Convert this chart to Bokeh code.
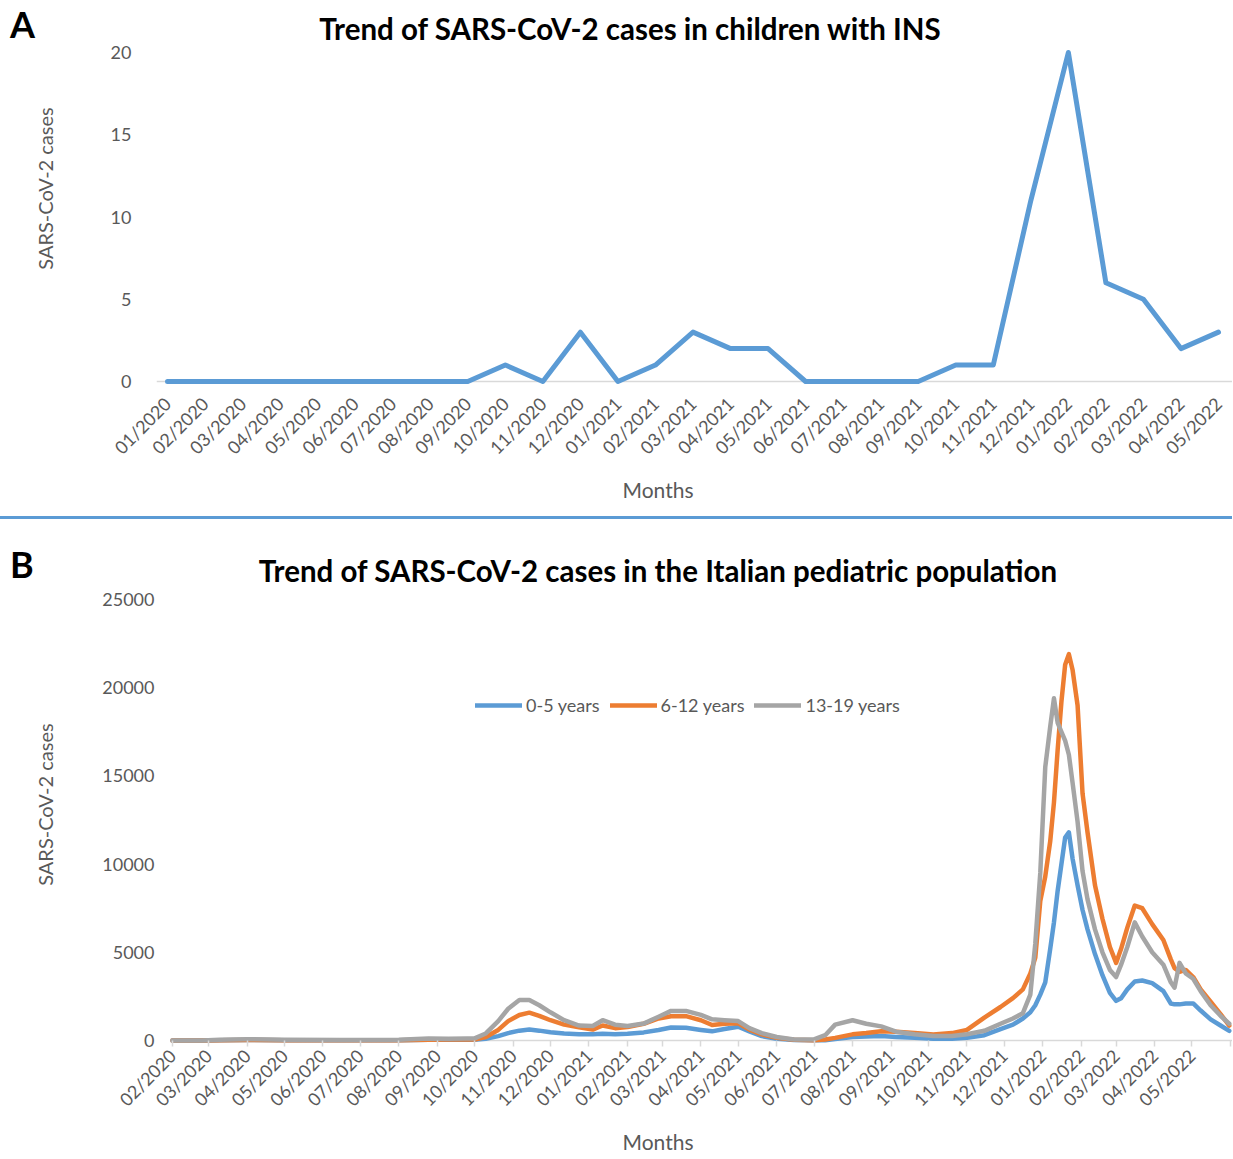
import math
import pandas as pd
from bokeh.plotting import figure
from bokeh.models import (Range1d, FixedTicker, Span, Legend, LegendItem, Label,
                          Div, ColumnDataSource, Title)
from bokeh.layouts import column, row
from bokeh.embed import file_html
from bokeh.resources import INLINE

# ---------------- Panel A data ----------------
a_months = ["01/2020", "02/2020", "03/2020", "04/2020", "05/2020", "06/2020",
            "07/2020", "08/2020", "09/2020", "10/2020", "11/2020", "12/2020",
            "01/2021", "02/2021", "03/2021", "04/2021", "05/2021", "06/2021",
            "07/2021", "08/2021", "09/2021", "10/2021", "11/2021", "12/2021",
            "01/2022", "02/2022", "03/2022", "04/2022", "05/2022"]
a_cases = [0, 0, 0, 0, 0, 0, 0, 0, 0, 1, 0, 3, 0, 1, 3, 2, 2, 0, 0, 0, 0, 1, 1,
           11, 20, 6, 5, 2, 3]
a_yticks = [0, 5, 10, 15, 20]

# ---------------- Panel B data ----------------
b_dates = [
    "2020-02-01", "2020-02-25", "2020-03-10", "2020-04-01", "2020-05-01", "2020-06-15",
    "2020-08-01", "2020-08-25", "2020-09-10", "2020-09-25",
    "2020-10-01", "2020-10-10", "2020-10-20", "2020-10-28", "2020-11-06", "2020-11-14",
    "2020-11-22", "2020-12-01", "2020-12-12", "2020-12-24",
    "2021-01-04", "2021-01-12", "2021-01-22", "2021-02-01", "2021-02-14", "2021-02-26",
    "2021-03-08", "2021-03-20", "2021-04-01", "2021-04-10",
    "2021-04-20", "2021-05-01", "2021-05-10", "2021-05-20", "2021-06-01", "2021-06-15",
    "2021-07-01", "2021-07-10", "2021-07-18", "2021-08-01",
    "2021-08-12", "2021-08-24", "2021-09-05", "2021-09-20", "2021-10-05", "2021-10-20",
    "2021-11-01", "2021-11-15", "2021-11-28", "2021-12-08",
    "2021-12-16", "2021-12-22", "2021-12-26", "2021-12-30", "2022-01-03", "2022-01-07",
    "2022-01-10", "2022-01-13", "2022-01-16", "2022-01-19",
    "2022-01-22", "2022-01-25", "2022-01-29", "2022-02-02", "2022-02-06", "2022-02-12",
    "2022-02-18", "2022-02-24", "2022-03-01", "2022-03-05",
    "2022-03-10", "2022-03-16", "2022-03-22", "2022-03-30", "2022-04-08", "2022-04-14",
    "2022-04-17", "2022-04-21", "2022-04-26", "2022-05-02",
    "2022-05-08", "2022-05-16", "2022-05-24", "2022-05-31"]
b_0_5 = [0, 0, 20, 30, 20, 10, 20, 40, 40, 50,
         40, 100, 250, 420, 560, 620, 560, 470, 400, 360,
         350, 380, 360, 380, 460, 600, 740, 720, 600, 520,
         650, 780, 520, 250, 100, 30, 10, 20, 80, 200,
         230, 250, 200, 150, 100, 100, 150, 300, 650, 900,
         1250, 1600, 2000, 2600, 3300, 5200, 6700, 8500, 10000, 11500,
         11800, 10300, 8800, 7400, 6300, 4900, 3700, 2700, 2250, 2400,
         2900, 3350, 3400, 3250, 2800, 2100, 2050, 2050, 2100, 2100,
         1700, 1200, 850, 550]
b_6_12 = [0, 0, 20, 30, 20, 10, 20, 50, 60, 70,
          60, 200, 600, 1100, 1450, 1580, 1400, 1150, 900, 750,
          620, 850, 700, 760, 950, 1250, 1380, 1380, 1150, 880,
          950, 980, 620, 350, 150, 40, 20, 60, 150, 350,
          420, 520, 500, 420, 340, 420, 600, 1300, 1900, 2400,
          2900, 3800, 4700, 7900, 9300, 11300, 13500, 16500, 19200, 21300,
          21900, 21000, 19000, 14000, 11800, 8800, 6900, 5300, 4400, 5200,
          6400, 7650, 7500, 6600, 5700, 4600, 4100, 3900, 4000, 3600,
          2900, 2200, 1500, 850]
b_13_19 = [0, 0, 50, 70, 50, 30, 50, 110, 100, 120,
           120, 400, 1100, 1800, 2300, 2300, 2000, 1600, 1150, 850,
           820, 1150, 900, 820, 960, 1350, 1680, 1680, 1450, 1200,
           1150, 1100, 700, 420, 200, 60, 60, 300, 900, 1150,
           950, 800, 500, 350, 250, 260, 360, 550, 950, 1250,
           1550, 2600, 5500, 9500, 15500, 17800, 19400, 18000, 17500, 17000,
           16200, 14600, 12400, 9600, 8000, 6300, 5000, 4000, 3600, 4300,
           5300, 6700, 5900, 5000, 4300, 3300, 3000, 4400, 3800, 3500,
           2800, 2000, 1400, 950]
b_month_labels = ["02/2020", "03/2020", "04/2020", "05/2020", "06/2020", "07/2020",
                  "08/2020", "09/2020", "10/2020", "11/2020", "12/2020", "01/2021",
                  "02/2021", "03/2021", "04/2021", "05/2021", "06/2021", "07/2021",
                  "08/2021", "09/2021", "10/2021", "11/2021", "12/2021", "01/2022",
                  "02/2022", "03/2022", "04/2022", "05/2022"]
b_yticks = [0, 5000, 10000, 15000, 20000, 25000]
b_series = ["0-5 years", "6-12 years", "13-19 years"]

title_a = "Trend of SARS-CoV-2 cases in children with INS"
title_b = "Trend of SARS-CoV-2 cases in the Italian pediatric population"
x_title = "Months"
y_title = "SARS-CoV-2 cases"

# ---------------- styling / geometry (page pixels) ----------------
FONT = "Lato"
GREY_TXT = "#595959"
AXIS_GREY = "#D9D9D9"
C_BLUE, C_ORANGE, C_GREY = "#5B9BD5", "#ED7D31", "#A5A5A5"
W = 1232
W_YT = 70                      # width of the strip holding the y-axis title
FRAME_L, FRAME_R = 156, W
H_HEAD_A, H_A, H_SEP, H_HEAD_B, H_B = 41, 475, 3, 68, 571
A_TOP0 = H_HEAD_A
B_TOP0 = H_HEAD_A + H_A + H_SEP + H_HEAD_B
HAS_STANDOFF = "standoff" in Title.properties()


def style_common(p):
    p.outline_line_color = None
    p.xgrid.visible = False
    p.ygrid.visible = False
    p.background_fill_color = "white"
    p.border_fill_color = "white"


def style_axis(ax, standoff):
    ax.axis_line_color = None
    ax.major_tick_line_color = None
    ax.minor_tick_line_color = None
    ax.major_label_standoff = standoff
    ax.major_label_text_font = FONT
    ax.major_label_text_font_size = "18px"
    ax.major_label_text_color = GREY_TXT


def below_title(p, text, size, offset, standoff):
    kw = dict(text=text, align="left", offset=offset, text_font=FONT,
              text_font_size=size, text_color=GREY_TXT, text_font_style="normal")
    if HAS_STANDOFF:
        kw["standoff"] = standoff
    p.add_layout(Title(**kw), "below")


def ytitle_strip(height, border_top, border_bottom, yr, y_center):
    s = figure(width=W_YT, height=height, output_backend="svg", toolbar_location=None,
               x_range=Range1d(0, W_YT), y_range=Range1d(yr[0], yr[1]),
               x_axis_location=None, y_axis_location=None,
               min_border_left=0, min_border_right=0,
               min_border_top=border_top, min_border_bottom=border_bottom)
    style_common(s)
    s.add_layout(Label(x=44, y=y_center, text=y_title, text_font=FONT,
                       text_font_size="20px", text_color=GREY_TXT,
                       text_align="center", text_baseline="middle",
                       angle=math.pi / 2))
    return s


def header(height, letter, letter_top, title, title_cx, title_top):
    html = (
        f'<div style="position:relative;width:{W}px;height:{height}px;overflow:visible;'
        f'font-family:Lato;color:#000;">'
        f'<span style="position:absolute;left:10px;top:{letter_top}px;font-size:36px;'
        f'font-weight:bold;line-height:1;white-space:nowrap;">{letter}</span>'
        f'<span style="position:absolute;left:{title_cx}px;top:{title_top}px;'
        f'transform:translateX(-50%);font-size:29.5px;font-weight:bold;line-height:1;'
        f'white-space:nowrap;">{title}</span></div>')
    return Div(text=html, width=W, height=height, margin=0)


# ================= Panel A =================
A_TOP, A_BOTTOM = 46, 385          # page px of frame
A_P0, A_PN = 167, 1218             # page px of first / last month
a_ppu = (A_PN - A_P0) / (len(a_months) - 1)
ax0 = (FRAME_L - A_P0) / a_ppu
ax1 = (FRAME_R - A_P0) / a_ppu
A_Y0PX, A_Y20PX = 381, 52
a_ppy = (A_Y0PX - A_Y20PX) / 20.0
ay0 = -(A_BOTTOM - A_Y0PX) / a_ppy
ay1 = (A_Y0PX - A_TOP) / a_ppy
A_BT, A_BB = A_TOP - A_TOP0, A_TOP0 + H_A - A_BOTTOM

pA = figure(width=W - W_YT, height=H_A, output_backend="svg", toolbar_location=None,
            x_range=Range1d(ax0, ax1), y_range=Range1d(ay0, ay1),
            min_border_left=FRAME_L - W_YT, min_border_right=0,
            min_border_top=A_BT, min_border_bottom=A_BB)
style_common(pA)

a_idx = list(range(len(a_months)))
srcA = ColumnDataSource(dict(x=a_idx, y=a_cases))
pA.add_layout(Span(location=0, dimension="width", line_color=AXIS_GREY,
                   line_width=1.5, level="underlay"))
pA.line("x", "y", source=srcA, line_color=C_BLUE, line_width=5,
        line_join="round", line_cap="round")

pA.xaxis.ticker = FixedTicker(ticks=a_idx)
pA.xaxis.major_label_overrides = {i: m for i, m in zip(a_idx, a_months)}
pA.xaxis.major_label_orientation = math.pi / 4
style_axis(pA.xaxis[0], 9)
pA.yaxis.ticker = FixedTicker(ticks=a_yticks)
style_axis(pA.yaxis[0], 19)
below_title(pA, x_title, "21px", 622 - FRAME_L, 11)

ytA = ytitle_strip(H_A, A_BT, A_BB, (ay0, ay1), (A_Y0PX - 188) / a_ppy)

# ================= Panel B =================
B_TOP, B_BOTTOM = 599, 1046
bstart = pd.Timestamp("2020-02-01")
bend = pd.Timestamp("2022-06-01")
bs_ms = bstart.value / 1e6
be_ms = bend.value / 1e6
B_PSTART, B_PEND = 172, 1230
ms_per_px = (be_ms - bs_ms) / (B_PEND - B_PSTART)
bx0 = bs_ms - (B_PSTART - FRAME_L) * ms_per_px
bx1 = be_ms + (FRAME_R - B_PEND) * ms_per_px
B_Y0PX, B_YTOPPX = 1042, 599
b_ppy = (B_Y0PX - B_YTOPPX) / 25000.0
by0 = -(B_BOTTOM - B_Y0PX) / b_ppy
by1 = 25000 + (B_YTOPPX - B_TOP) / b_ppy
B_BT, B_BB = B_TOP - B_TOP0, B_TOP0 + H_B - B_BOTTOM

pB = figure(width=W - W_YT, height=H_B, output_backend="svg", toolbar_location=None,
            x_axis_type="datetime",
            x_range=Range1d(bx0, bx1), y_range=Range1d(by0, by1),
            min_border_left=FRAME_L - W_YT, min_border_right=0,
            min_border_top=B_BT, min_border_bottom=B_BB)
style_common(pB)

bx = pd.to_datetime(b_dates)
srcB = ColumnDataSource(dict(x=bx, a=b_0_5, b=b_6_12, c=b_13_19))
base = ColumnDataSource(dict(x0=[bs_ms], x1=[bx1], y0=[0], y1=[0]))
pB.segment("x0", "y0", "x1", "y1", source=base, line_color=AXIS_GREY, line_width=1.5)
r1 = pB.line("x", "a", source=srcB, line_color=C_BLUE, line_width=4.5, line_join="round", line_cap="round")
r2 = pB.line("x", "b", source=srcB, line_color=C_ORANGE, line_width=4.5, line_join="round", line_cap="round")
r3 = pB.line("x", "c", source=srcB, line_color=C_GREY, line_width=4.5, line_join="round", line_cap="round")

tick_ms = [pd.Timestamp(f"{lab[3:]}-{lab[:2]}-01").value / 1e6 for lab in b_month_labels]
overrides = {t: lab for t, lab in zip(tick_ms, b_month_labels)}
overrides[be_ms] = ""
pB.xaxis.ticker = FixedTicker(ticks=tick_ms + [be_ms])
pB.xaxis.major_label_overrides = overrides
pB.xaxis.major_label_orientation = math.pi / 4
style_axis(pB.xaxis[0], 6)
pB.xaxis.major_tick_line_color = AXIS_GREY
pB.xaxis.major_tick_line_width = 1.5
pB.xaxis.major_tick_in = B_BOTTOM - B_Y0PX
pB.xaxis.major_tick_out = 2
pB.yaxis.ticker = FixedTicker(ticks=b_yticks)
style_axis(pB.yaxis[0], -4)

legend = Legend(items=[LegendItem(label=b_series[0], renderers=[r1]),
                       LegendItem(label=b_series[1], renderers=[r2]),
                       LegendItem(label=b_series[2], renderers=[r3])],
                orientation="horizontal", location=(475 - FRAME_L, B_BOTTOM - 718),
                padding=0, margin=0, spacing=10, glyph_width=47, glyph_height=20,
                label_standoff=4, label_text_font=FONT, label_text_font_size="18px",
                label_text_color=GREY_TXT, border_line_color=None,
                background_fill_alpha=0)
pB.add_layout(legend)
below_title(pB, x_title, "21px", 622 - FRAME_L, 10)

ytB = ytitle_strip(H_B, B_BT, B_BB, (by0, by1), (B_Y0PX - 805) / b_ppy)

# ================= headers / separator =================
headA = header(H_HEAD_A, "A", 6, title_a, 630, 14)
headB = header(H_HEAD_B, "B", 27, title_b, 658, 37)
sep = Div(text="", width=W, height=H_SEP, margin=0,
          styles={"background-color": C_BLUE})

layout = column(headA, row(ytA, pA, spacing=0), sep, headB, row(ytB, pB, spacing=0),
                spacing=0)
open("out.html", "w").write(file_html(layout, INLINE))
